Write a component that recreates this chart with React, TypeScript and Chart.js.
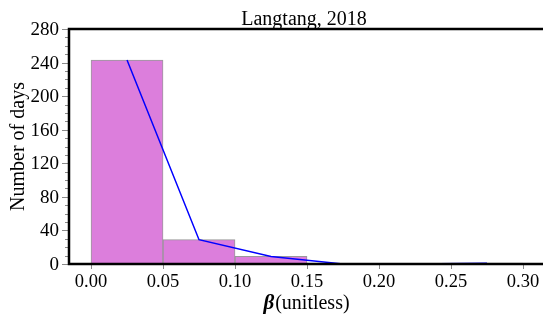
import React, { useEffect, useRef } from "react";
import { Chart, registerables } from "chart.js";

Chart.register(...registerables);

const binCenters = [0.025, 0.075, 0.125, 0.175, 0.225, 0.275];
const dayCounts = [243, 29, 9, 0, 0, 1];
const xTickValues = [0, 0.05, 0.1, 0.15, 0.2, 0.25, 0.3];
const xTickLabels = ["0.00", "0.05", "0.10", "0.15", "0.20", "0.25", "0.30"];
const yTickValues = [0, 40, 80, 120, 160, 200, 240, 280];
const yMinorStep = 10;
const chartTitle = "Langtang, 2018";
const yTitle = "Number of days";
const xTitleSymbol = "β";
const xTitleRest = "(unitless)";

const SERIF = "'Liberation Serif', 'Times New Roman', serif";

const axesPlugin = {
  id: "customAxes",
  afterDatasetsDraw(chart: any) {
    const { ctx, chartArea, scales } = chart;
    const { left, right, top, bottom } = chartArea;
    const y = scales.y;
    const x = scales.x;
    ctx.save();
    ctx.strokeStyle = "#8a8a8a";
    ctx.lineWidth = 1;
    for (let v = y.min; v <= y.max + 1e-9; v += yMinorStep) {
      const py = Math.round(y.getPixelForValue(v)) + 0.5;
      const len = yTickValues.includes(v) ? 7 : 4;
      ctx.beginPath();
      ctx.moveTo(left - len, py);
      ctx.lineTo(left, py);
      ctx.stroke();
    }
    for (const v of xTickValues) {
      const px = Math.round(x.getPixelForValue(v)) + 0.5;
      ctx.beginPath();
      ctx.moveTo(px, bottom);
      ctx.lineTo(px, bottom + 5);
      ctx.stroke();
    }
    ctx.strokeStyle = "#000";
    ctx.lineWidth = 2.5;
    ctx.beginPath();
    ctx.moveTo(left, top);
    ctx.lineTo(right, top);
    ctx.moveTo(left, top - 1.25);
    ctx.lineTo(left, bottom + 1.25);
    ctx.moveTo(left, bottom);
    ctx.lineTo(right, bottom);
    ctx.stroke();

    ctx.fillStyle = "#000";
    // tick labels
    ctx.font = `19px ${SERIF}`;
    ctx.textAlign = "right";
    ctx.textBaseline = "middle";
    for (const v of yTickValues) {
      ctx.fillText(String(v), left - 10, y.getPixelForValue(v) + 1);
    }
    ctx.font = `18.5px ${SERIF}`;
    ctx.textAlign = "center";
    xTickValues.forEach((v, i) => {
      ctx.fillText(xTickLabels[i], x.getPixelForValue(v), bottom + 18);
    });

    ctx.textBaseline = "alphabetic";
    ctx.font = `20px ${SERIF}`;
    ctx.fillText(chartTitle, (left + right) / 2 - 2, 25);

    ctx.save();
    ctx.translate(24, (top + bottom) / 2);
    ctx.rotate(-Math.PI / 2);
    ctx.fillText(yTitle, 0, 0);
    ctx.restore();

    ctx.textAlign = "left";
    const symFont = `italic bold 21px ${SERIF}`;
    const restFont = `20px ${SERIF}`;
    ctx.font = symFont;
    const w1 = ctx.measureText(xTitleSymbol).width;
    ctx.font = restFont;
    const w2 = ctx.measureText(xTitleRest).width;
    const startX = (left + right) / 2 - (w1 + w2) / 2;
    const by = 309;
    ctx.font = symFont;
    ctx.fillText(xTitleSymbol, startX, by);
    ctx.font = restFont;
    ctx.fillText(xTitleRest, startX + w1 + 1, by);
    ctx.restore();
  },
};

export default function App() {
  const ref = useRef<HTMLCanvasElement | null>(null);
  useEffect(() => {
    if (!ref.current) return;
    const chart = new Chart(ref.current, {
      type: "bar",
      data: {
        datasets: [
          {
            type: "line",
            data: binCenters.map((c, i) => ({ x: c, y: dayCounts[i] })),
            borderColor: "#0000ff",
            borderWidth: 1.5,
            pointRadius: 0,
            fill: false,
            tension: 0,
            order: 0,
          } as any,
          {
            type: "bar",
            data: binCenters.map((c, i) => ({ x: c, y: dayCounts[i] })),
            backgroundColor: "#dc7edc",
            borderColor: "rgba(120,120,120,0.75)",
            borderWidth: 1,
            borderSkipped: false,
            barPercentage: 1,
            categoryPercentage: 1,
            order: 1,
          } as any,
        ],
      },
      options: {
        responsive: false,
        animation: false,
        layout: { padding: { top: 29, left: 0, right: 0, bottom: 0 } },
        plugins: { legend: { display: false }, tooltip: { enabled: false }, title: { display: false } },
        scales: {
          x: {
            type: "linear",
            min: -0.0153,
            max: 0.3139,
            offset: false,
            grid: { display: false, drawTicks: false },
            border: { display: false },
            afterBuildTicks: (s: any) => {
              s.ticks = xTickValues.map((v) => ({ value: v }));
            },
            afterFit: (s: any) => {
              s.height = 56;
              s.paddingLeft = 0;
              s.paddingRight = 0;
            },
            ticks: { display: false },
          },
          y: {
            min: 0,
            max: 280,
            grid: { display: false, drawTicks: false },
            border: { display: false },
            afterBuildTicks: (s: any) => {
              s.ticks = yTickValues.map((v) => ({ value: v }));
            },
            afterFit: (s: any) => {
              s.width = 69;
              s.paddingTop = 0;
              s.paddingBottom = 0;
            },
            ticks: { display: false },
          },
        },
      } as any,
      plugins: [axesPlugin],
    });
    return () => chart.destroy();
  }, []);
  return (
    <div style={{ position: "absolute", left: 0, top: 0, width: 543, height: 320, background: "#fff" }}>
      <canvas ref={ref} width={543} height={320} />
    </div>
  );
}
